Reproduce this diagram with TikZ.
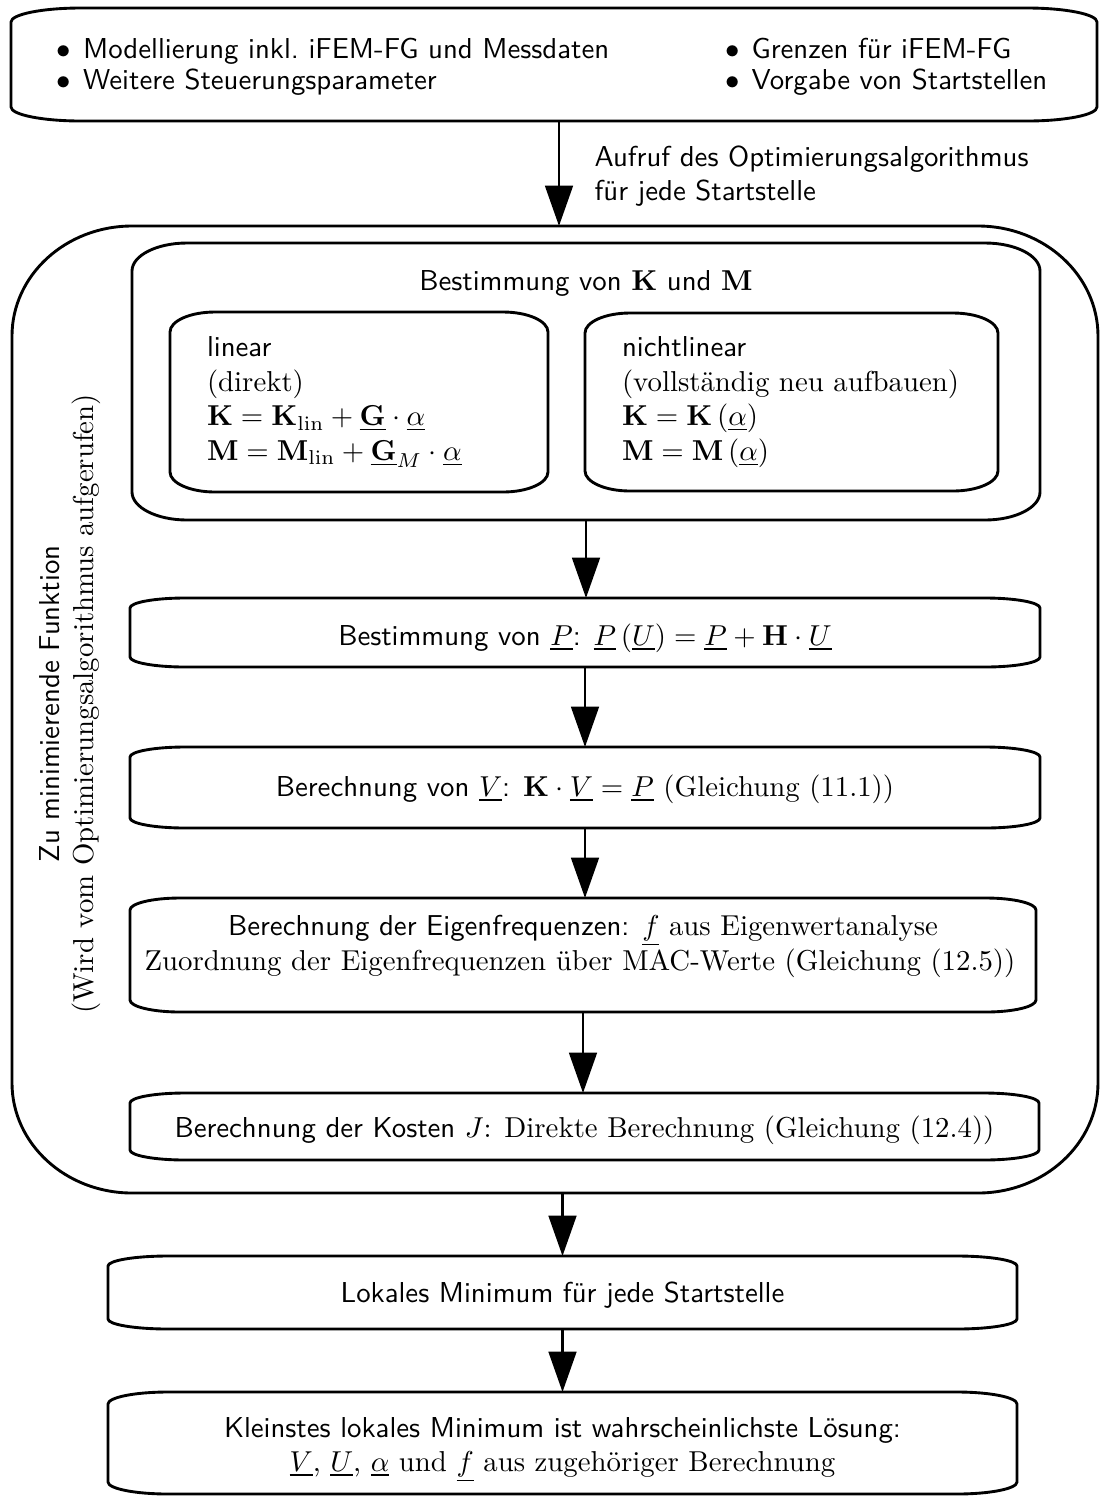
\documentclass[tikz,border=0pt]{standalone}
\usetikzlibrary{arrows.meta,calc}
\begin{document}
% one drawing unit = one pixel of the final image
\def\u{0.34722pt}
% outline with flat elliptical corners around a named node: #1 node, #2 x radius, #3 y radius
\newcommand\eframe[3]{%
  \draw[boxline] let \p1=(#1.north west), \p2=(#1.south east) in
    (\x1+#2*\u,\y1) -- (\x2-#2*\u,\y1)
    arc[start angle=90,end angle=0,x radius=#2*\u,y radius=#3*\u]
    -- (\x2,\y2+#3*\u)
    arc[start angle=0,end angle=-90,x radius=#2*\u,y radius=#3*\u]
    -- (\x1+#2*\u,\y2)
    arc[start angle=270,end angle=180,x radius=#2*\u,y radius=#3*\u]
    -- (\x1,\y1-#3*\u)
    arc[start angle=180,end angle=90,x radius=#2*\u,y radius=#3*\u]
    -- cycle;}
\begin{tikzpicture}[x=\u, y=-\u,
  boxline/.style={line width=1pt},
  arr/.style={line width=0.95pt, -{Triangle[length=14pt,width=9.6pt]}},
  frame/.style={inner sep=0pt, outer sep=0pt, font=\sffamily},
  % box spanning the corners (#1,#2) and (#3,#4)
  span/.style n args={4}{at={({(#1+#3)/2},{(#2+#4)/2})},
    minimum width={(#3-#1)*\u}, minimum height={(#4-#2)*\u}},
  % left-aligned contents with a margin of 37 units on both sides
  inset/.style n args={4}{span={#1}{#2}{#3}{#4}, align=left,
    text width={(#3-#1-74)*\u}},
  txt/.style={anchor=base, inner sep=0pt, font=\sffamily},
  item/.style={anchor=base west, inner sep=0pt, font=\sffamily}]
\useasboundingbox (0,0) rectangle (1102,1497);

% ---- input box
\node[frame, span={11}{8}{1097}{121}] (top) {};
\node[item] (i1) at (56,58) {$\bullet$\hspace{4.2pt}Modellierung inkl.\ iFEM-FG und Messdaten};
\node[item] (i2) at (56,89) {$\bullet$\hspace{4.2pt}Weitere Steuerungsparameter};
\node[item] (i3) at (724.5,58) {$\bullet$\hspace{4.2pt}Grenzen für iFEM-FG};
\node[item] (i4) at (724.5,89) {$\bullet$\hspace{4.2pt}Vorgabe von Startstellen};

% ---- function to be minimised
\node[frame, span={12}{226}{1098}{1193}] (outer) {};
\node[rotate=90, align=center, inner sep=0pt] (fn) at (70,704)
  {{\sffamily Zu minimierende Funktion}\\(Wird vom Optimierungsalgorithmus aufgerufen)};

\node[frame, span={132}{243}{1040}{520}] (km) {};
\node[txt] (kmt) at (586,290) {Bestimmung von $\mathbf{K}$ und $\mathbf{M}$};
\node[frame, inset={170}{312}{548}{492}] (lin)
  {linear\\\rmfamily(direkt)\\
   $\mathbf{K}=\mathbf{K}_{\mathrm{lin}}+\underline{\mathbf{G}}\cdot\underline{\alpha}$\\
   $\mathbf{M}=\mathbf{M}_{\mathrm{lin}}+\underline{\mathbf{G}}_M\cdot\underline{\alpha}$};
\node[frame, inset={585}{313}{998}{491}] (nlin)
  {nichtlinear\\\rmfamily(vollständig neu aufbauen)\\
   $\mathbf{K}=\mathbf{K}\left(\underline{\alpha}\right)$\\
   $\mathbf{M}=\mathbf{M}\left(\underline{\alpha}\right)$};

\node[frame, span={130}{598}{1040}{667}] (pbox) {};
\node[txt] (ptxt) at (585,645)
  {Bestimmung von $\underline{P}$: $\underline{P}\left(\underline{U}\right)=\underline{P}+\mathbf{H}\cdot\underline{U}$};
\node[frame, span={130}{747}{1040}{828}] (vbox) {};
\node[txt] (vtxt) at (585,796)
  {Berechnung von $\underline{V}$: $\mathbf{K}\cdot\underline{V}=\underline{P}$ \textrm{(Gleichung (11.1))}};
\node[frame, span={130}{898}{1036}{1012}] (eig) {};
\node[txt] (eig1) at (583,935)
  {Berechnung der Eigenfrequenzen: $\underline{f}$ \textrm{aus Eigenwertanalyse}};
\node[txt, font=\rmfamily] (eig2) at (580,970)
  {Zuordnung der Eigenfrequenzen über MAC-Werte (Gleichung (12.5))};
\node[frame, span={130}{1093}{1039}{1160}] (kost) {};
\node[txt] (ktxt) at (584.5,1137)
  {Berechnung der Kosten $J$\textrm{: Direkte Berechnung (Gleichung (12.4))}};

% ---- results
\node[frame, span={108}{1256}{1017}{1329}] (lok) {};
\node[txt] (ltxt) at (562.5,1302) {Lokales Minimum für jede Startstelle};
\node[frame, span={108}{1392}{1017}{1494}] (fin) {};
\node[txt] (fin1) at (562.5,1437) {Kleinstes lokales Minimum ist wahrscheinlichste Lösung:};
\node[txt, font=\rmfamily] (fin2) at (562.5,1471)
  {$\underline{V}$, $\underline{U}$, $\underline{\alpha}$ und $\underline{f}$ aus zugehöriger Berechnung};

% ---- outlines
\eframe{top}{70}{14}
\eframe{outer}{120}{110}
\eframe{km}{55}{28}
\eframe{lin}{45}{20}
\eframe{nlin}{45}{20}
\eframe{pbox}{55}{10}
\eframe{vbox}{55}{10}
\eframe{eig}{50}{12}
\eframe{kost}{55}{10}
\eframe{lok}{60}{10}
\eframe{fin}{60}{12}

% ---- connectors
\draw[arr] ([xshift=4*\u]top.south -| outer.north) -- ([xshift=4*\u]outer.north);
\node[anchor=north west, inner sep=0pt, align=left, font=\sffamily] (call) at (594,145)
  {Aufruf des Optimierungsalgorithmus\\für jede Startstelle};
\draw[arr] (km.south) -- (km.south |- pbox.north);
\draw[arr] (pbox.south) -- (vbox.north);
\draw[arr] (vbox.south) -- (vbox.south |- eig.north);
\draw[arr] (eig.south) -- (eig.south |- kost.north);
\draw[arr] (outer.south -| lok.north) -- (lok.north);
\draw[arr] (lok.south) -- (fin.north);
\end{tikzpicture}
\end{document}
